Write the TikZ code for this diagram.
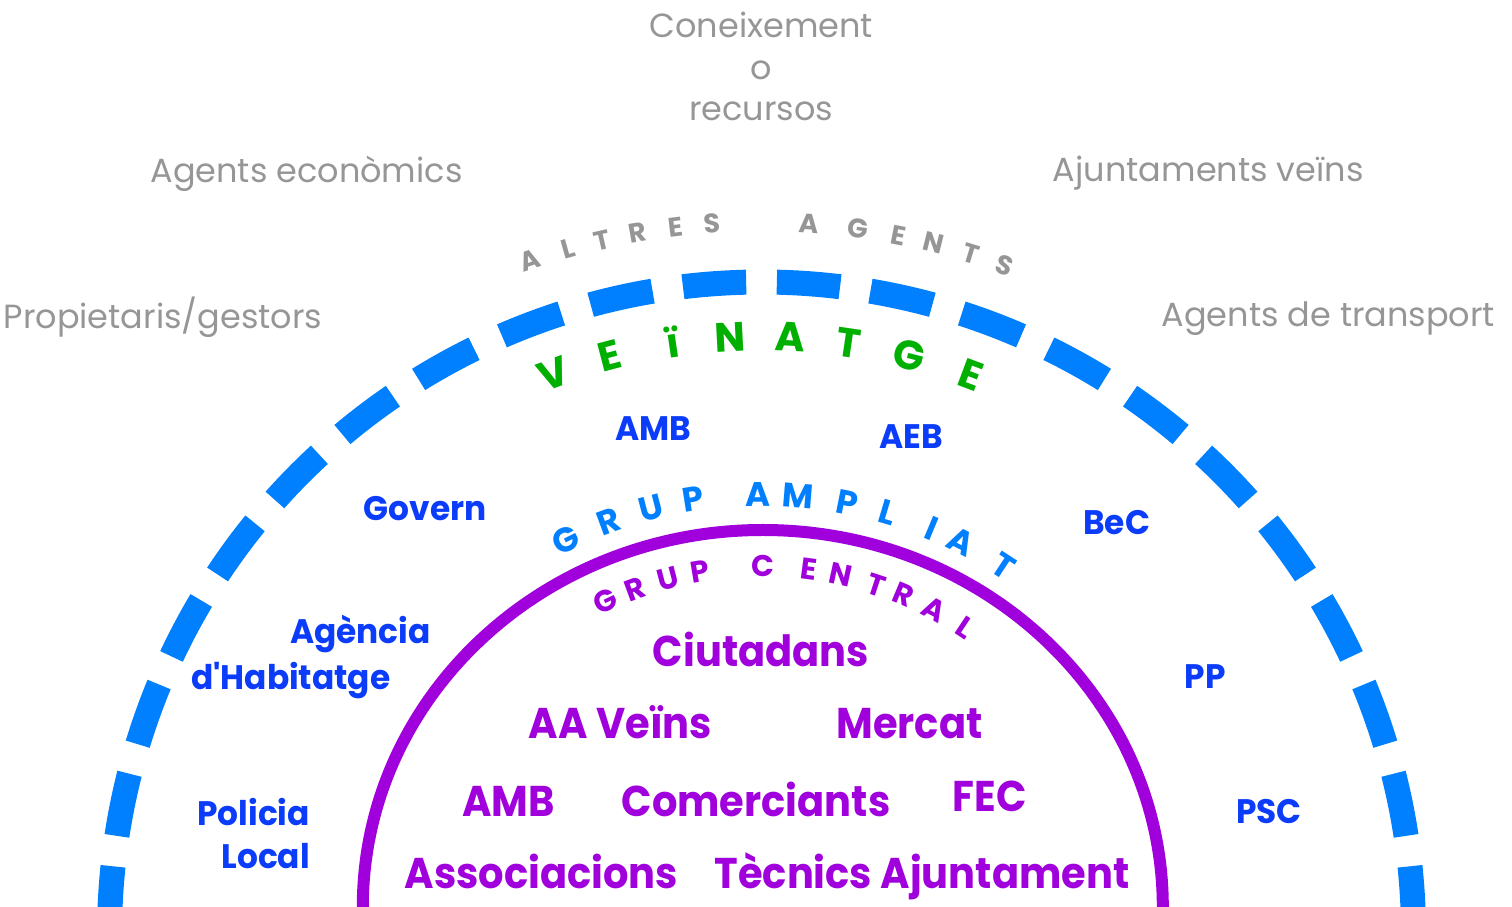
\documentclass[tikz,border=0pt]{standalone}
\usepackage{fontspec}
\setmainfont{Poppins}
\usepackage{tikz}
\usetikzlibrary{calc}
\definecolor{gris}{RGB}{150,150,150}
\definecolor{blauclar}{RGB}{0,128,255}
\definecolor{blau}{RGB}{10,60,250}
\definecolor{lila}{RGB}{160,0,220}
\definecolor{verd}{RGB}{0,176,0}

\begin{document}
\begin{tikzpicture}[x=1pt, y=1pt,
    every node/.style={inner sep=0pt, anchor=base},
    etgris/.style={gris, font=\fontsize{33.5}{41.5}\selectfont},
    etblau/.style={blau, xscale=0.965, font=\fontsize{34}{42.4}\selectfont\bfseries},
    etlila/.style={lila, xscale=0.93, font=\fontsize{43}{52}\selectfont\bfseries},
    lletgris/.style={gris, font=\fontsize{27}{27}\selectfont\bfseries},
    lletverd/.style={verd, font=\fontsize{41}{41}\selectfont\bfseries},
    lletblau/.style={blauclar, font=\fontsize{34}{34}\selectfont\bfseries},
    lletlila/.style={lila, font=\fontsize{30}{30}\selectfont\bfseries},
    ratlla/.style={blauclar, line width=25pt,
      dash pattern=on 63.4pt off 30.7pt, dash phase=78.75pt}]
  \useasboundingbox (0,0) rectangle (1512,907);
  \clip (0,0) rectangle (1512,907);
  \coordinate (centre) at (761.5,-27);
  \coordinate (centrelila) at (762.8,0);

  % anells
  \draw[ratlla] ($(centre)+(90:652)$) arc[start angle=90, end angle=185, radius=652];
  \draw[ratlla] ($(centre)+(90:652)$) arc[start angle=90, end angle=-5, radius=652];
  \draw[lila, line width=12pt] ($(centrelila)+(-400,0)$)
    arc[start angle=180, end angle=0, x radius=400, y radius=377];

  % textos corbats
  \foreach \lt/\ang [count=\i] in {A/109.0, L/105.8, T/102.9, R/100.0, E/96.9, S/94.0,
      A/86.2, G/82.2, E/78.9, N/76.0, T/72.9, S/70.0}
    \node[lletgris, rotate=\ang-90] (altres\i) at ($(centre)+(\ang:702.5)$) {\lt};
  \foreach \lt/\ang [count=\i] in {V/110.4, E/104.7, ï/98.5, N/93.0, A/87.2,
      T/81.6, G/75.7, E/69.5}
    \node[lletverd, rotate=\ang-90] (veinatge\i) at ($(centre)+(\ang:583)$) {\lt};
  \foreach \lt/\ang [count=\i] in {G/116.4, R/110.3, U/104.6, P/99.0, A/90.4, M/85.3,
      P/78.7, L/73.4, I/67.3, A/63.0, T/56.7}
    \node[lletblau, rotate=\ang-90] (ampliat\i) at ($(centre)+(\ang:428)$) {\lt};
  \foreach \lt/\ang [count=\i] in {G/115.2, R/110.2, U/104.7, P/99.6, C/89.7, E/82.6,
      N/77.6, T/71.8, R/67.3, A/62.0, L/56.4}
    \node[lletlila, rotate=\ang-90] (central\i) at ($(centre)+(\ang:357)$) {\lt};

  % altres agents
  \node[etgris, anchor=north, align=center] (coneix) at (761.3,895) {Coneixement\\o\\recursos};
  \node[etgris] (econ) at (306.5,724) {Agents econòmics};
  \node[etgris] (ajunt) at (1208.3,725.3) {Ajuntaments veïns};
  \node[etgris] (propiet) at (163,578.7) {Propietaris/gestors};
  \node[etgris] (transp) at (1328.3,580.3) {Agents de transport};

  % grup ampliat
  \node[etblau] (ambg) at (653.5,466) {AMB};
  \node[etblau] (aeb) at (911,458) {AEB};
  \node[etblau] (govern) at (425.3,386) {Govern};
  \node[etblau] (bec) at (1116.7,372) {BeC};
  \node[etblau] (agencia) at (360.5,263.7) {Agència};
  \node[etblau] (habitatge) at (290.8,217) {d\textquotesingle Habitatge};
  \node[etblau] (pp) at (1205,218.7) {PP};
  \node[etblau, anchor=north east, align=right] (policia) at (310,108.5) {Policia\\Local};
  \node[etblau] (psc) at (1269,83.7) {PSC};

  % grup central
  \node[etlila] (ciutadans) at (761,240.3) {Ciutadans};
  \node[etlila] (aaveins) at (620.5,168.7) {AA Veïns};
  \node[etlila] (mercat) at (909.5,168.7) {Mercat};
  \node[etlila] (amb) at (508.5,90.3) {AMB};
  \node[etlila] (comerc) at (756,90.3) {Comerciants};
  \node[etlila] (fec) at (989.5,95.3) {FEC};
  \node[etlila] (assoc) at (541.5,18.7) {Associacions};
  \node[etlila] (tecnics) at (922,18.7) {Tècnics Ajuntament};
\end{tikzpicture}
\end{document}
